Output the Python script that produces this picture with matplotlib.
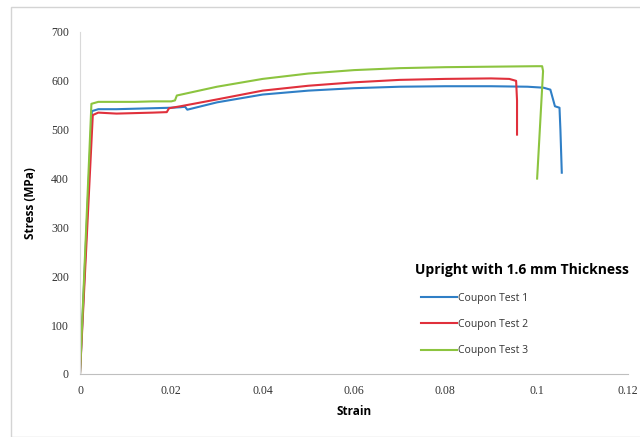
import matplotlib.pyplot as plt
from matplotlib.patches import Rectangle

# Coupon test stress-strain data
strain_1 = [0, 0.0026, 0.004, 0.008, 0.012, 0.016, 0.020, 0.022, 0.023, 0.0235,
            0.030, 0.040, 0.050, 0.060, 0.070, 0.080, 0.090, 0.098, 0.1015,
            0.1030, 0.1035, 0.1040, 0.1050, 0.1052, 0.1055]
stress_1 = [0, 538, 542, 542, 543, 544, 545, 546, 547, 541,
            556, 572, 580, 585, 588, 589, 589, 588, 586,
            582, 565, 548, 545, 500, 412]

strain_2 = [0, 0.0028, 0.004, 0.008, 0.012, 0.016, 0.019, 0.0195, 0.022, 0.030,
            0.040, 0.050, 0.060, 0.070, 0.080, 0.090, 0.094, 0.0955, 0.0957, 0.0957]
stress_2 = [0, 530, 535, 533, 534, 535, 536, 544, 548, 562,
            580, 590, 597, 602, 604, 605, 604, 600, 560, 490]

strain_3 = [0, 0.0025, 0.004, 0.008, 0.012, 0.016, 0.020, 0.0208, 0.0212, 0.030,
            0.040, 0.050, 0.060, 0.070, 0.080, 0.090, 0.1000, 0.1012, 0.1014, 0.1001]
stress_3 = [0, 553, 557, 557, 557, 558, 558, 560, 570, 588,
            604, 615, 622, 626, 628, 629, 630, 630, 620, 400]

labels = ["Coupon Test 1", "Coupon Test 2", "Coupon Test 3"]
x_ticks = [0, 0.02, 0.04, 0.06, 0.08, 0.1, 0.12]
x_tick_labels = ["0", "0.02", "0.04", "0.06", "0.08", "0.1", "0.12"]
y_ticks = [0, 100, 200, 300, 400, 500, 600, 700]


def main():
    blue = "#2F7FC6"
    red = "#E0303C"
    green = "#8CC43F"
    tick_font = "Liberation Serif"
    label_font = "Open Sans"

    fig = plt.figure(figsize=(6.4, 4.37), dpi=100)
    fig.patches.append(
        Rectangle((11 / 640, 0), 1, 1 - 7 / 437, transform=fig.transFigure,
                  facecolor="none", edgecolor="#D4D4D4", linewidth=1.0)
    )
    ax = fig.add_axes([80 / 640, 63 / 437, 548 / 640, 342 / 437])

    for xs, ys, c, lab in zip([strain_1, strain_2, strain_3],
                              [stress_1, stress_2, stress_3],
                              [blue, red, green], labels):
        ax.plot(xs, ys, color=c, linewidth=1.5, label=lab)

    ax.set_xlim(0, 0.12)
    ax.set_ylim(0, 700)
    ax.set_xticks(x_ticks)
    ax.set_xticklabels(x_tick_labels, fontfamily=tick_font, fontsize=8.5,
                       color="#333333")
    ax.set_yticks(y_ticks)
    ax.set_yticklabels([str(v) for v in y_ticks], fontfamily=tick_font,
                       fontsize=8.5, color="#333333")
    ax.tick_params(length=0, pad=8)

    for side in ["top", "right"]:
        ax.spines[side].set_visible(False)
    ax.spines["left"].set_color("#D9D9D9")
    ax.spines["bottom"].set_color("#BFBFBF")

    ax.set_xlabel("Strain", fontfamily=label_font, fontweight="bold",
                  fontsize=8.5, labelpad=6)
    ax.set_ylabel("Stress (MPa)", fontfamily=label_font, fontweight="bold",
                  fontsize=8.5, labelpad=10)

    fig.text(415 / 640, 1 - 270 / 437, "Upright with 1.6 mm Thickness",
             fontfamily=label_font, fontweight="bold", fontsize=10,
             ha="left", va="center")

    leg = ax.legend(
        loc="upper left",
        bbox_to_anchor=(421 / 640, 1 - 293 / 437),
        bbox_transform=fig.transFigure,
        frameon=False,
        prop={"family": label_font, "size": 7.5},
        handlelength=3.5,
        handletextpad=0.1,
        labelspacing=1.45,
        borderpad=0,
        borderaxespad=0,
    )
    for text in leg.get_texts():
        text.set_color("#333333")

    fig.savefig("out.png", dpi=100)
    plt.close(fig)


if __name__ == "__main__":
    main()
